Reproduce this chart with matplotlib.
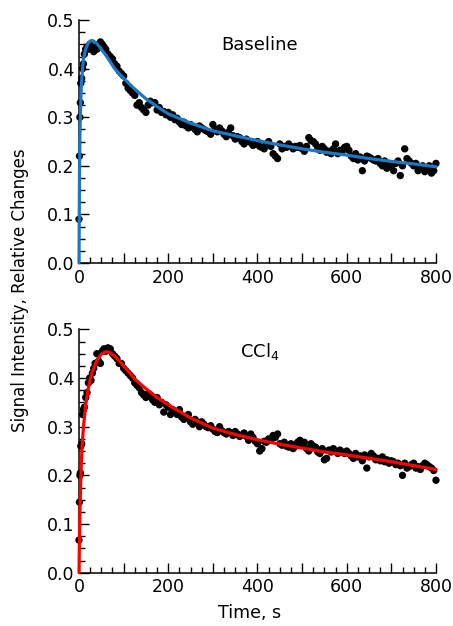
import numpy as np
import matplotlib
matplotlib.use("Agg")
import matplotlib.pyplot as plt
from matplotlib.ticker import MultipleLocator, FuncFormatter

# sample times shared by both records (s)
time_s = [0, 1, 2, 3, 4, 6, 8, 10, 12, 15, 18, 21, 24, 27, 30, 33, 36, 40, 44, 48,
          52, 56, 60, 65, 70, 75, 80, 85, 90, 95, 100,
          105, 110, 115, 120, 125, 130, 135, 140, 145, 150, 155, 160, 165, 170, 175, 180, 185, 190, 195, 200,
          205, 210, 215, 220, 225, 230, 235, 240, 245, 250, 255, 260, 265, 270, 275, 280, 285, 290, 295, 300,
          305, 310, 315, 320, 325, 330, 335, 340, 345, 350, 355, 360, 365, 370, 375, 380, 385, 390, 395, 400,
          405, 410, 415, 420, 425, 430, 435, 440, 445, 450, 455, 460, 465, 470, 475, 480, 485, 490, 495, 500,
          505, 510, 515, 520, 525, 530, 535, 540, 545, 550, 555, 560, 565, 570, 575, 580, 585, 590, 595, 600,
          605, 610, 615, 620, 625, 630, 635, 640, 645, 650, 655, 660, 665, 670, 675, 680, 685, 690, 695, 700,
          705, 710, 715, 720, 725, 730, 735, 740, 745, 750, 755, 760, 765, 770, 775, 780, 785, 790, 795, 800]

baseline_pts = [0.09, 0.22, 0.30, 0.33, 0.37, 0.38, 0.40, 0.41, 0.43, 0.44, 0.445, 0.44, 0.45, 0.445, 0.44,
                0.435, 0.445, 0.44, 0.45, 0.455, 0.45, 0.445, 0.44, 0.43, 0.425, 0.42, 0.41, 0.405, 0.395,
                0.39, 0.385,
                0.37, 0.36, 0.355, 0.35, 0.345, 0.325, 0.33, 0.32, 0.315, 0.31, 0.325, 0.333, 0.33, 0.33,
                0.315, 0.32, 0.31, 0.312, 0.305, 0.31,
                0.30, 0.305, 0.295, 0.298, 0.29, 0.285, 0.29, 0.282, 0.278, 0.285, 0.28, 0.275, 0.27, 0.282,
                0.278, 0.275, 0.272, 0.27, 0.265, 0.285,
                0.275, 0.27, 0.278, 0.272, 0.265, 0.26, 0.27, 0.278, 0.262, 0.255, 0.26, 0.258, 0.25, 0.245,
                0.255, 0.25, 0.248, 0.242, 0.245, 0.25,
                0.24, 0.238, 0.235, 0.245, 0.25, 0.24, 0.225, 0.22, 0.215, 0.245, 0.235, 0.24, 0.238, 0.245,
                0.24, 0.235, 0.24, 0.238, 0.242, 0.235,
                0.23, 0.24, 0.258, 0.252, 0.25, 0.245, 0.238, 0.232, 0.24, 0.235, 0.228, 0.23, 0.225, 0.235,
                0.245, 0.225, 0.232, 0.23, 0.238, 0.24,
                0.232, 0.22, 0.215, 0.225, 0.212, 0.218, 0.19, 0.21, 0.22, 0.218, 0.215, 0.212, 0.21, 0.215,
                0.205, 0.20, 0.21, 0.195, 0.205, 0.20,
                0.19, 0.205, 0.21, 0.18, 0.20, 0.235, 0.215, 0.21, 0.205, 0.20, 0.205, 0.19, 0.198, 0.20,
                0.188, 0.195, 0.20, 0.185, 0.19, 0.205]

ccl4_pts = [0.067, 0.145, 0.20, 0.205, 0.26, 0.265, 0.325, 0.335, 0.34, 0.36, 0.37, 0.39, 0.40, 0.395, 0.41,
            0.42, 0.43, 0.45, 0.435, 0.43, 0.455, 0.46, 0.455, 0.462, 0.46, 0.45, 0.445, 0.44, 0.43,
            0.43, 0.42,
            0.415, 0.41, 0.405, 0.40, 0.39, 0.385, 0.38, 0.37, 0.365, 0.36, 0.368, 0.365, 0.355, 0.35,
            0.36, 0.345, 0.35, 0.33, 0.345, 0.34,
            0.325, 0.335, 0.33, 0.325, 0.335, 0.32, 0.315, 0.32, 0.325, 0.31, 0.305, 0.315, 0.31, 0.30,
            0.31, 0.305, 0.30, 0.298, 0.302, 0.295,
            0.29, 0.288, 0.30, 0.292, 0.288, 0.285, 0.29, 0.288, 0.282, 0.29, 0.285, 0.28, 0.283, 0.287,
            0.28, 0.272, 0.285, 0.278, 0.27, 0.265,
            0.25, 0.255, 0.27, 0.268, 0.275, 0.272, 0.282, 0.278, 0.285, 0.265, 0.262, 0.268, 0.26, 0.258,
            0.265, 0.255, 0.26, 0.268, 0.272, 0.262,
            0.268, 0.255, 0.25, 0.265, 0.26, 0.258, 0.248, 0.245, 0.255, 0.232, 0.235, 0.252, 0.248, 0.255,
            0.25, 0.245, 0.252, 0.248, 0.245, 0.25,
            0.245, 0.24, 0.235, 0.245, 0.238, 0.24, 0.23, 0.242, 0.215, 0.238, 0.245, 0.24, 0.232, 0.235,
            0.23, 0.238, 0.228, 0.232, 0.225, 0.23,
            0.228, 0.222, 0.225, 0.22, 0.20, 0.225, 0.215, 0.218, 0.222, 0.225, 0.215, 0.218, 0.212, 0.22,
            0.225, 0.222, 0.218, 0.215, 0.21, 0.19]

# fitted curves, read at selected times
fit_t_base = [0, 1, 2, 3, 5, 7, 10, 15, 20, 25, 30, 40, 50, 60, 80, 100, 125, 150, 175, 200,
              250, 300, 350, 400, 450, 500, 550, 600, 650, 700, 750, 800]
fit_base = [0.0, 0.17, 0.25, 0.30, 0.36, 0.39, 0.42, 0.44, 0.452, 0.457, 0.458, 0.452, 0.44, 0.428,
            0.40, 0.38, 0.358, 0.338, 0.322, 0.307, 0.288, 0.272, 0.262, 0.252, 0.243, 0.235, 0.228,
            0.222, 0.215, 0.209, 0.204, 0.198]

fit_t_ccl4 = [0, 1, 2, 3, 5, 7, 10, 15, 20, 25, 30, 40, 50, 60, 70, 80, 100, 125, 150, 175, 200,
              250, 300, 350, 400, 450, 500, 550, 600, 650, 700, 750, 800]
fit_ccl4 = [0.0, 0.07, 0.12, 0.16, 0.22, 0.26, 0.30, 0.345, 0.375, 0.397, 0.413, 0.436, 0.449, 0.454,
            0.452, 0.445, 0.425, 0.398, 0.378, 0.36, 0.345, 0.318, 0.297, 0.284, 0.273, 0.264, 0.256,
            0.248, 0.242, 0.235, 0.228, 0.22, 0.212]

fig = plt.figure(figsize=(4.53, 6.26), dpi=100)
ax_top = fig.add_axes([0.1744, 0.5799, 0.788, 0.388])
ax_bot = fig.add_axes([0.1744, 0.0851, 0.788, 0.3888])


def xfmt(v, pos):
    return f"{int(v)}" if int(round(v)) % 200 == 0 else ""


for ax, pts, ft, fv, col, label, ly in [
    (ax_top, baseline_pts, fit_t_base, fit_base, "#1c78c6", "Baseline", 0.897),
    (ax_bot, ccl4_pts, fit_t_ccl4, fit_ccl4, "#ff0000", "CCl$_4$", 0.907),
]:
    ax.scatter(time_s, pts, s=28, color="black", edgecolors="none", zorder=2, clip_on=False)
    ax.plot(ft, fv, color=col, lw=2.3, zorder=3, clip_on=False, solid_capstyle="round")
    ax.set_xlim(0, 800)
    ax.set_ylim(0, 0.5)
    for s in ["top", "right"]:
        ax.spines[s].set_visible(False)
    for s in ["left", "bottom"]:
        ax.spines[s].set_linewidth(1.1)
    ax.xaxis.set_major_locator(MultipleLocator(100))
    ax.xaxis.set_minor_locator(MultipleLocator(25))
    ax.xaxis.set_major_formatter(FuncFormatter(xfmt))
    ax.yaxis.set_major_locator(MultipleLocator(0.1))
    ax.yaxis.set_minor_locator(MultipleLocator(0.025))
    ax.yaxis.set_major_formatter(FuncFormatter(lambda v, p: f"{v:.1f}"))
    ax.tick_params(which="major", direction="in", length=7, width=1.0, labelsize=12.5)
    ax.tick_params(axis="x", which="major", pad=4)
    ax.tick_params(axis="y", which="major", pad=3)
    ax.tick_params(which="minor", direction="in", length=4, width=1.0)
    ax.text(0.507, ly, label, transform=ax.transAxes, ha="center", va="center", fontsize=13)

fig.text(0.045, 0.537, "Signal Intensity, Relative Changes", rotation=90, ha="center", va="center",
         fontsize=12)
fig.text(0.552, 0.021, "Time, s", ha="center", va="center", fontsize=12.5)

fig.savefig("out.png", dpi=100)
